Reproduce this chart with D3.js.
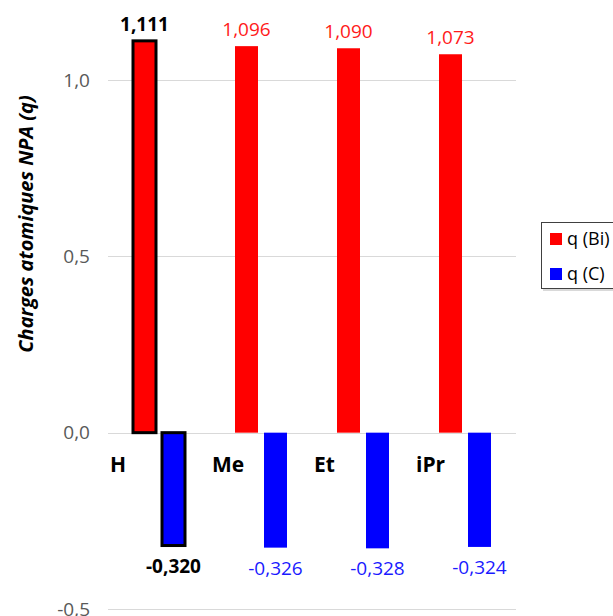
<!DOCTYPE html>
<html><head><meta charset="utf-8">
<script src="https://cdn.jsdelivr.net/npm/d3@7"></script>
<style>html,body{margin:0;padding:0;background:#fff;}svg{display:block;font-family:"Open Sans",sans-serif;}</style>
</head><body>
<svg id="c" width="613" height="616"></svg>
<script>
const categories = ["H", "Me", "Et", "iPr"];
const seriesNames = ["q (Bi)", "q (C)"];
const qBi = [1.111, 1.096, 1.090, 1.073];
const qC = [-0.320, -0.326, -0.328, -0.324];
const labelsBi = ["1,111", "1,096", "1,090", "1,073"];
const labelsC = ["-0,320", "-0,326", "-0,328", "-0,324"];
const yTicks = [-0.5, 0, 0.5, 1.0];
const yTickLabels = ["-0,5", "0,0", "0,5", "1,0"];
const yTitle = "Charges atomiques NPA (q)";
const colors = ["#ff0000", "#0000ff"];
const labelColors = ["#ff1a1a", "#1a1aff"];
const highlighted = "H";

const svg = d3.select("#c");
const y = d3.scaleLinear().domain([-0.5, 1.0]).range([609, 80]);
const x0 = d3.scaleBand().domain(categories).range([108, 516]).padding(0);
const x1 = d3.scaleBand().domain(seriesNames).range([25, 77]).paddingInner(6/29).paddingOuter(0);

// gridlines
svg.append("g").selectAll("line").data(yTicks).join("line")
  .attr("x1", 108).attr("x2", 516)
  .attr("y1", d => Math.round(y(d)) + 0.5).attr("y2", d => Math.round(y(d)) + 0.5)
  .attr("stroke", "#d9d9d9").attr("stroke-width", 1);

// y tick labels
svg.append("g").selectAll("text").data(yTicks).join("text")
  .attr("x", 90).attr("y", d => y(d)).attr("dy", "0.35em")
  .attr("text-anchor", "end").attr("font-size", 19).attr("fill", "#595959")
  .text((d, i) => yTickLabels[i]);

// y title
svg.append("text")
  .attr("transform", "translate(33,224) rotate(-90)")
  .attr("text-anchor", "middle").attr("font-size", 20)
  .attr("font-weight", "bold").attr("font-style", "italic").attr("fill", "#000")
  .text(yTitle);

const data = [];
categories.forEach((c, i) => {
  data.push({cat: c, s: seriesNames[0], v: qBi[i], lab: labelsBi[i], k: 0});
  data.push({cat: c, s: seriesNames[1], v: qC[i], lab: labelsC[i], k: 1});
});

const bars = svg.append("g");
bars.selectAll("rect").data(data).join("rect")
  .attr("x", d => x0(d.cat) + x1(d.s))
  .attr("width", x1.bandwidth())
  .attr("y", d => y(Math.max(0, d.v)))
  .attr("height", d => Math.abs(y(d.v) - y(0)))
  .attr("fill", d => colors[d.k])
  .attr("stroke", d => d.cat === highlighted ? "#000" : "none")
  .attr("stroke-width", 3);

// data labels
svg.append("g").selectAll("text").data(data).join("text")
  .attr("x", d => x0(d.cat) + x1(d.s) + x1.bandwidth() / 2)
  .attr("y", d => d.v >= 0 ? y(d.v) - 10 : y(d.v) + 27)
  .attr("text-anchor", "middle").attr("font-size", 19)
  .attr("font-weight", d => d.cat === highlighted ? "bold" : "normal")
  .attr("fill", d => d.cat === highlighted ? "#000" : labelColors[d.k])
  .text(d => d.lab);

// category labels
svg.append("g").selectAll("text").data(categories).join("text")
  .attr("x", d => x0(d) + 2).attr("y", 472)
  .attr("font-size", 21).attr("font-weight", "bold").attr("fill", "#000")
  .text(d => d);

// legend
const lg = svg.append("g");
lg.append("rect").attr("x", 543).attr("y", 224).attr("width", 90).attr("height", 67)
  .attr("fill", "#bfbfbf").attr("opacity", 0.6);
lg.append("rect").attr("x", 541.5).attr("y", 222.5).attr("width", 90).attr("height", 66)
  .attr("fill", "#fff").attr("stroke", "#404040").attr("stroke-width", 1);
seriesNames.forEach((s, i) => {
  lg.append("rect").attr("x", 550).attr("y", 233 + i * 35).attr("width", 12).attr("height", 12)
    .attr("fill", colors[i]);
  lg.append("text").attr("x", 567).attr("y", 245 + i * 35).attr("font-size", 18).attr("fill", "#000")
    .text(s);
});
</script>
</body></html>
